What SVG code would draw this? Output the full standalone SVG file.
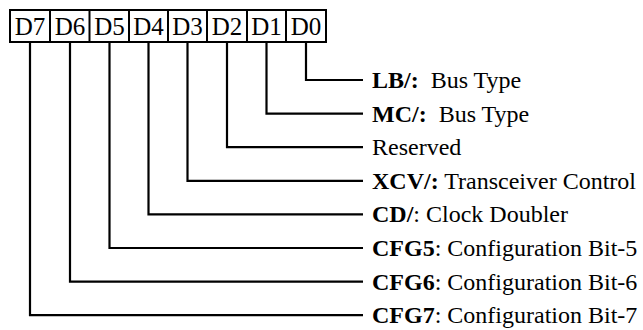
<svg xmlns="http://www.w3.org/2000/svg" width="643" height="330" viewBox="0 0 643 330">
<style>
.box{fill:#fff;stroke:#000;stroke-width:2}
.bt{font-family:"Liberation Serif","Times New Roman",serif;font-size:25px;fill:#000;text-anchor:middle}
.lbl{font-family:"Liberation Serif","Times New Roman",serif;font-size:24px;fill:#000;white-space:pre}
.b{font-weight:bold}
.wire{fill:none;stroke:#000;stroke-width:2.2}
</style>
<rect width="643" height="330" fill="#fff"/>
<g id="register">
  <rect class="box" x="10" y="10" width="316" height="32"/>
  <g stroke="#000" stroke-width="2">
    <line x1="50" y1="10" x2="50" y2="42"/>
    <line x1="89.5" y1="10" x2="89.5" y2="42"/>
    <line x1="129" y1="10" x2="129" y2="42"/>
    <line x1="168" y1="10" x2="168" y2="42"/>
    <line x1="207" y1="10" x2="207" y2="42"/>
    <line x1="247" y1="10" x2="247" y2="42"/>
    <line x1="286" y1="10" x2="286" y2="42"/>
  </g>
  <text class="bt" x="30" y="35">D7</text>
  <text class="bt" x="70" y="35">D6</text>
  <text class="bt" x="109.5" y="35">D5</text>
  <text class="bt" x="148.5" y="35">D4</text>
  <text class="bt" x="187.5" y="35">D3</text>
  <text class="bt" x="227" y="35">D2</text>
  <text class="bt" x="266.5" y="35">D1</text>
  <text class="bt" x="306" y="35">D0</text>
</g>
<g id="connectors">
  <polyline class="wire" points="306,42 306,80 363,80"/>
  <polyline class="wire" points="266.5,42 266.5,113.6 363,113.6"/>
  <polyline class="wire" points="227,42 227,147.2 363,147.2"/>
  <polyline class="wire" points="187.5,42 187.5,180.8 363,180.8"/>
  <polyline class="wire" points="148.5,42 148.5,214.4 363,214.4"/>
  <polyline class="wire" points="109.5,42 109.5,248 363,248"/>
  <polyline class="wire" points="70,42 70,281.6 363,281.6"/>
  <polyline class="wire" points="30,42 30,315.2 363,315.2"/>
</g>
<g id="lb"><text class="lbl" x="372" y="88"><tspan class="b">LB/:</tspan>  Bus Type</text></g>
<g id="mc"><text class="lbl" x="372" y="121.6"><tspan class="b">MC/:</tspan>  Bus Type</text></g>
<g id="reserved"><text class="lbl" x="372" y="155.2">Reserved</text></g>
<g id="xcv"><text class="lbl" x="372" y="188.8"><tspan class="b">XCV/:</tspan> Transceiver Control</text></g>
<g id="cd"><text class="lbl" x="372" y="222.4"><tspan class="b">CD/</tspan>: Clock Doubler</text></g>
<g id="cfg5"><text class="lbl" x="372" y="256"><tspan class="b">CFG5</tspan>: Configuration Bit-5</text></g>
<g id="cfg6"><text class="lbl" x="372" y="289.6"><tspan class="b">CFG6</tspan>: Configuration Bit-6</text></g>
<g id="cfg7"><text class="lbl" x="372" y="323.2"><tspan class="b">CFG7</tspan>: Configuration Bit-7</text></g>
</svg>
